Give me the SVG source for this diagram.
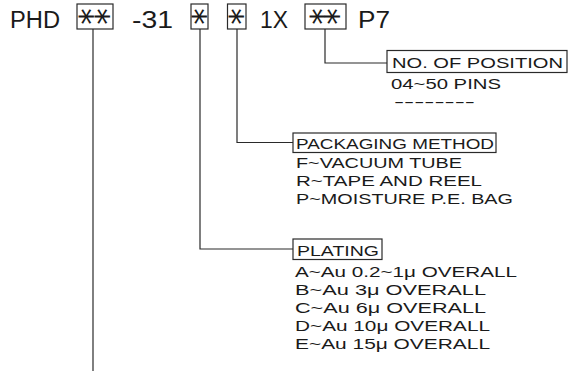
<svg xmlns="http://www.w3.org/2000/svg" width="571" height="371" viewBox="0 0 571 371">
<style>
text{font-family:"Liberation Sans","DejaVu Sans",sans-serif;fill:#1a1a1a}
.big{font-size:23.5px}
.lab{font-size:15.5px}
.ast{font-family:"DejaVu Sans",sans-serif;font-size:33px;text-anchor:middle}
.box{fill:none;stroke:#2a2a2a;stroke-width:1.2}
.conn{fill:none;stroke:#2a2a2a;stroke-width:1.2}
</style>
<rect width="571" height="371" fill="#fff"/>
<g id="code">
<text class="big" x="10" y="28" textLength="50" lengthAdjust="spacingAndGlyphs">PHD</text>
<rect class="box" x="77" y="4" width="36" height="25"/>
<text class="ast" x="87" y="34.5" transform="rotate(90 87 16.5)">*</text>
<text class="ast" x="103" y="34.5" transform="rotate(90 103 16.5)">*</text>
<text class="big" x="132" y="28" textLength="41" lengthAdjust="spacingAndGlyphs">-31</text>
<rect class="box" x="191" y="4" width="17" height="25"/>
<text class="ast" x="199.5" y="34.5" transform="rotate(90 199.5 16.5)">*</text>
<rect class="box" x="227.5" y="4" width="18.5" height="25"/>
<text class="ast" x="236.7" y="34.5" transform="rotate(90 236.7 16.5)">*</text>
<text class="big" x="260" y="28" textLength="28" lengthAdjust="spacingAndGlyphs">1X</text>
<rect class="box" x="305" y="4" width="41" height="25"/>
<text class="ast" x="318" y="34.5" transform="rotate(90 318 16.5)">*</text>
<text class="ast" x="333" y="34.5" transform="rotate(90 333 16.5)">*</text>
<text class="big" x="358" y="28" textLength="32" lengthAdjust="spacingAndGlyphs">P7</text>
</g>
<g id="connectors">
<path class="conn" d="M325 29V63H387"/>
<path class="conn" d="M237 29V142.5H293"/>
<path class="conn" d="M200 29V249H293"/>
<path class="conn" d="M93 29V371"/>
</g>
<g id="position">
<rect class="box" x="387" y="50.5" width="180" height="22"/>
<text class="lab" x="392" y="68" textLength="171" lengthAdjust="spacingAndGlyphs">NO. OF POSITION</text>
<text class="lab" x="391" y="89" textLength="110" lengthAdjust="spacingAndGlyphs">04~50 PINS</text>
<text class="lab" x="394" y="107" textLength="81" lengthAdjust="spacingAndGlyphs">--------</text>
</g>
<g id="packaging">
<rect class="box" x="293" y="133" width="203" height="19.5"/>
<text class="lab" x="296" y="149" textLength="198" lengthAdjust="spacingAndGlyphs">PACKAGING METHOD</text>
<text class="lab" x="296" y="167.5" textLength="166" lengthAdjust="spacingAndGlyphs">F~VACUUM TUBE</text>
<text class="lab" x="296" y="185.5" textLength="186" lengthAdjust="spacingAndGlyphs">R~TAPE AND REEL</text>
<text class="lab" x="296" y="203.5" textLength="217" lengthAdjust="spacingAndGlyphs">P~MOISTURE P.E. BAG</text>
</g>
<g id="plating">
<rect class="box" x="293" y="239" width="89" height="20.5"/>
<text class="lab" x="297" y="255.5" textLength="82" lengthAdjust="spacingAndGlyphs">PLATING</text>
<text class="lab" x="295" y="277" textLength="222" lengthAdjust="spacingAndGlyphs">A~Au 0.2~1μ OVERALL</text>
<text class="lab" x="295" y="295" textLength="191" lengthAdjust="spacingAndGlyphs">B~Au 3μ OVERALL</text>
<text class="lab" x="295" y="313" textLength="191" lengthAdjust="spacingAndGlyphs">C~Au 6μ OVERALL</text>
<text class="lab" x="295" y="331" textLength="195" lengthAdjust="spacingAndGlyphs">D~Au 10μ OVERALL</text>
<text class="lab" x="295" y="349" textLength="195" lengthAdjust="spacingAndGlyphs">E~Au 15μ OVERALL</text>
</g>
</svg>
